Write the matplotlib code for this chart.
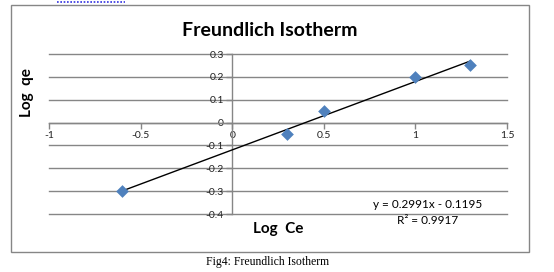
import matplotlib
matplotlib.use("Agg")
import matplotlib.pyplot as plt
from matplotlib.patches import Rectangle
from matplotlib.lines import Line2D
import numpy as np

# data
log_ce = [-0.6, 0.3, 0.5, 1.0, 1.3]
log_qe = [-0.3, -0.05, 0.05, 0.2, 0.25]
slope = 0.2991
intercept = -0.1195
eq_text = "y = 0.2991x - 0.1195"
r2_text = "R² = 0.9917"
x_ticks = [-1, -0.5, 0, 0.5, 1, 1.5]
x_tick_labels = ["-1", "-0.5", "0", "0.5", "1", "1.5"]
y_ticks = [-0.4, -0.3, -0.2, -0.1, 0, 0.1, 0.2, 0.3]
y_tick_labels = ["-0.4", "-0.3", "-0.2", "-0.1", "0", "0.1", "0.2", "0.3"]

W, H = 554, 272
fig = plt.figure(figsize=(W / 100, H / 100), dpi=100)
fig.patch.set_facecolor("white")

def fx(px):
  return px / W

def fy(py):
  return 1 - py / H

grey = "#868686"

# chart frame
fig.add_artist(Rectangle((fx(11), fy(252)), fx(529) - fx(11), fy(5) - fy(252),
                         transform=fig.transFigure, fill=False, edgecolor=grey, lw=1))
# bits of the page above the chart
fig.add_artist(Line2D([fx(57), fx(125)], [fy(1.5), fy(1.5)], transform=fig.transFigure,
                      color="#3030e0", lw=1.2, linestyle=(0, (1, 1))))

ax = fig.add_axes([fx(49), fy(214), fx(507) - fx(49), fy(54) - fy(214)])
ax.set_xlim(-1, 1.5)
ax.set_ylim(-0.4, 0.3)

for s in ["top", "right"]:
  ax.spines[s].set_visible(False)
ax.spines["left"].set_position(("data", 0))
ax.spines["bottom"].set_position(("data", 0))
for s in ["left", "bottom"]:
  ax.spines[s].set_color(grey)
  ax.spines[s].set_linewidth(1)

ax.set_yticks(y_ticks)
ax.set_yticklabels(y_tick_labels)
ax.set_xticks(x_ticks)
ax.set_xticklabels(x_tick_labels)
ax.tick_params(axis="both", colors=grey, labelcolor="#222222", labelsize=7.5,
               length=4, width=1, direction="out", pad=2)
for lab in ax.get_xticklabels() + ax.get_yticklabels():
  lab.set_family("Lato")

ax.yaxis.grid(True, color=grey, lw=1)
for gl in ax.get_ygridlines():
  gl.set_clip_on(False)
ax.set_axisbelow(True)

# trendline
xs = np.array([min(log_ce), max(log_ce)])
ax.plot(xs, slope * xs + intercept, color="black", lw=1, zorder=3)
ax.scatter(log_ce, log_qe, marker="D", s=42, color="#4F81BD", zorder=4, linewidths=0)

fig.text(fx(270), fy(30), "Freundlich Isotherm", ha="center", va="center",
         fontsize=14, fontweight="bold", family="Lato")
fig.text(fx(27), fy(93), "Log  qe", ha="center", va="center", rotation=90,
         fontsize=11, fontweight="bold", family="Lato")
fig.text(fx(278), fy(229), "Log  Ce", ha="center", va="center",
         fontsize=11, fontweight="bold", family="Lato")
fig.text(fx(428), fy(205), eq_text, ha="center", va="center", fontsize=8.5, family="Lato")
fig.text(fx(428), fy(220), r2_text, ha="center", va="center", fontsize=8.5, family="Lato")
fig.text(fx(268), fy(262), "Fig4: Freundlich Isotherm", ha="center", va="center",
         fontsize=8.5, family="Liberation Serif")

fig.savefig("out.png", dpi=100, facecolor="white")
